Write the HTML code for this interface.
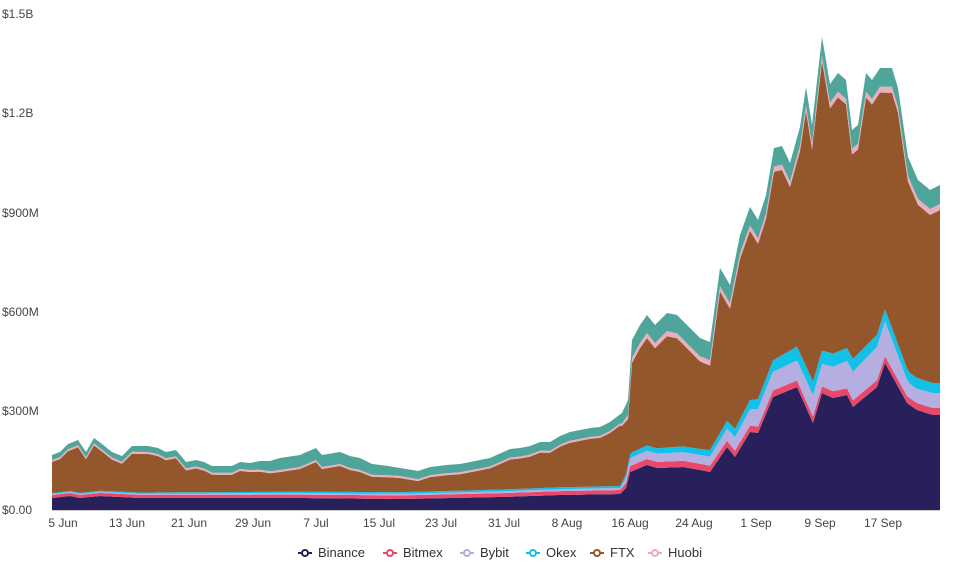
<!DOCTYPE html>
<html><head><meta charset="utf-8"><style>
body{margin:0;background:#fff;font-family:"Liberation Sans",sans-serif;}
svg text{font-family:"Liberation Sans",sans-serif;font-size:12px;fill:#444;}
</style></head><body>
<svg id="s" width="954" height="573" xmlns="http://www.w3.org/2000/svg">
<g id="areas"></g>
<line x1="52" y1="510.5" x2="940" y2="510.5" stroke="#ccc"/>
<text x="2" y="18">$1.5B</text>
<text x="2" y="117">$1.2B</text>
<text x="2" y="217">$900M</text>
<text x="2" y="316">$600M</text>
<text x="2" y="415">$300M</text>
<text x="2" y="514">$0.00</text>
<g text-anchor="middle">
<text x="63" y="527">5 Jun</text><text x="127" y="527">13 Jun</text><text x="189" y="527">21 Jun</text>
<text x="253" y="527">29 Jun</text><text x="316" y="527">7 Jul</text><text x="379" y="527">15 Jul</text>
<text x="441" y="527">23 Jul</text><text x="504" y="527">31 Jul</text><text x="567" y="527">8 Aug</text>
<text x="630" y="527">16 Aug</text><text x="694" y="527">24 Aug</text><text x="756" y="527">1 Sep</text>
<text x="820" y="527">9 Sep</text><text x="883" y="527">17 Sep</text>
</g>
<g id="leg"></g>
</svg>
<script>
(function(){
function interp(k,x){if(x<=k[0][0])return k[0][1];for(let i=1;i<k.length;i++){if(x<=k[i][0]){const a=k[i-1],b=k[i];return a[1]+(b[1]-a[1])*(x-a[0])/(b[0]-a[0]);}}return k[k.length-1][1];}
const topK=[[52,455],[60,452],[68,444],[78,440],[86,452],[94,438],[102,444],[112,452],[122,456],[132,446],[148,446],[158,448],[166,452],[176,450],[186,462],[196,460],[204,462],[212,466],[222,466],[232,466],[240,462],[250,463],[260,461],[270,461],[280,458],[300,455],[316,448],[322,455],[340,452],[350,456],[360,458],[372,464],[388,466],[400,468],[418,471],[430,467],[446,465],[460,464],[470,462],[490,458],[510,449],[520,448],[530,446],[540,442],[550,442],[560,436],[570,432],[580,430],[590,428],[600,427],[610,422],[622,413],[628,400],[632,340],[640,325],[647,315],[655,325],[667,313],[677,315],[690,328],[700,338],[710,342],[720,268],[730,285],[740,235],[750,207],[758,220],[766,195],[774,148],[782,146],[790,163],[800,127],[806,87],[812,125],[822,37],[830,84],[838,73],[846,80],[852,130],[858,125],[866,73],[872,80],[880,68],[892,68],[898,88],[908,157],[918,180],[930,190],[940,185]];
const tealT=[[52,5],[250,7],[280,12],[360,12],[400,8],[620,9],[632,18],[940,19]];
const huoT=[[52,2],[620,2],[632,5],[940,6]];
const bin=[[52,498],[70,496],[80,498],[100,496],[140,498],[300,498],[400,499],[500,497],[560,495],[620,494],[626,488],[630,472],[647,465],[657,468],[683,467],[700,470],[710,472],[727,447],[735,457],[750,432],[758,433],[773,397],[797,387],[813,423],[822,393],[833,398],[847,395],[853,407],[877,387],[885,363],[907,403],[917,410],[933,415],[940,415]];
const bmT=[[52,3],[620,4],[632,6],[940,7]];
const byT=[[52,1],[620,2],[632,8],[710,9],[760,18],[797,20],[820,22],[885,35],[910,14],[940,15]];
const okT=[[52,1],[620,2],[632,5],[700,6],[760,10],[797,14],[885,12],[940,10]];
const set=new Set();for(let x=52;x<=940.01;x+=7.87)set.add(Math.round(x*10)/10);set.add(940);
topK.forEach(p=>set.add(p[0]));bin.forEach(p=>set.add(p[0]));
const X=[...set].sort((a,b)=>a-b);
const L={base:X.map(()=>510)};
L.bin=X.map(x=>interp(bin,x));
L.bm=X.map((x,i)=>L.bin[i]-interp(bmT,x));
L.by=X.map((x,i)=>L.bm[i]-interp(byT,x));
L.ok=X.map((x,i)=>L.by[i]-interp(okT,x));
L.tp=X.map(x=>interp(topK,x));
L.hu=X.map((x,i)=>L.tp[i]+interp(tealT,x));
L.ftx=X.map((x,i)=>L.hu[i]+interp(huoT,x));
const order=[["base","bin","#27205a"],["bin","bm","#e8486a"],["bm","by","#b5aee0"],["by","ok","#13c0e8"],["ok","ftx","#93572b"],["ftx","hu","#eaaec0"],["hu","tp","#50a59a"]];
const NS="http://www.w3.org/2000/svg";
const areas=document.getElementById("areas");
for(const [lo,hi,c] of order){
 let pts=[];X.forEach((x,i)=>pts.push(x+","+L[hi][i].toFixed(1)));
 for(let i=X.length-1;i>=0;i--)pts.push(X[i]+","+L[lo][i].toFixed(1));
 const p=document.createElementNS(NS,"path");p.setAttribute("d","M"+pts.join(" L")+" Z");p.setAttribute("fill",c);areas.appendChild(p);
}
const lg=[["Binance","#27205a",298],["Bitmex","#e8486a",383],["Bybit","#b5aee0",460],["Okex","#13c0e8",526],["FTX","#93572b",590],["Huobi","#eaaec0",648]];
const leg=document.getElementById("leg");
for(const [n,c,x] of lg){
 const l=document.createElementNS(NS,"line");l.setAttribute("x1",x);l.setAttribute("y1",553);l.setAttribute("x2",x+14);l.setAttribute("y2",553);l.setAttribute("stroke",c);l.setAttribute("stroke-width",2);leg.appendChild(l);
 const ci=document.createElementNS(NS,"circle");ci.setAttribute("cx",x+7);ci.setAttribute("cy",553);ci.setAttribute("r",3);ci.setAttribute("fill","#fff");ci.setAttribute("stroke",c);ci.setAttribute("stroke-width",2);leg.appendChild(ci);
 const t=document.createElementNS(NS,"text");t.setAttribute("x",x+20);t.setAttribute("y",557);t.setAttribute("style","font-size:13px;fill:#333");t.textContent=n;leg.appendChild(t);
}
})();
</script>
</body></html>
